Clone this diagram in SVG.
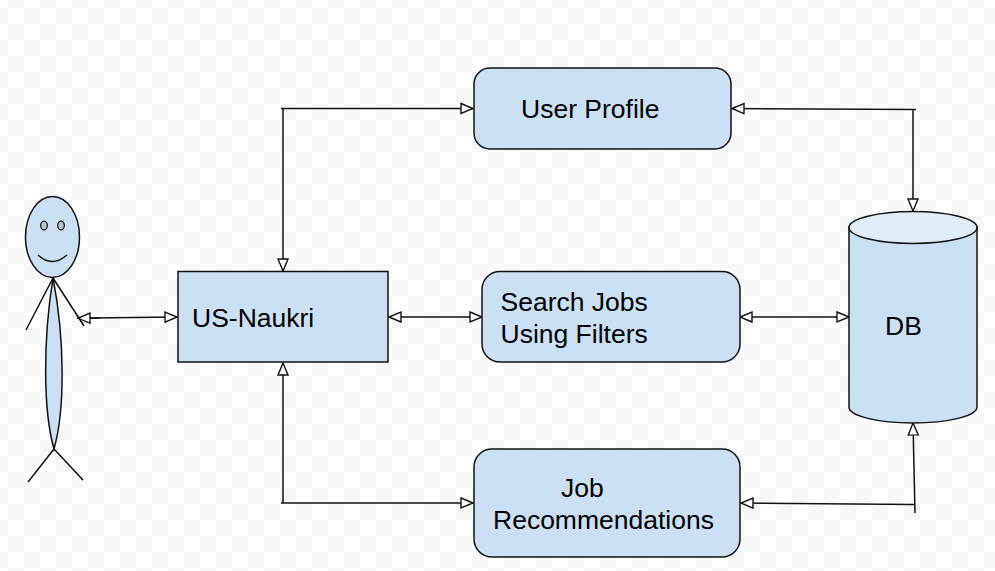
<svg xmlns="http://www.w3.org/2000/svg" width="995" height="571" viewBox="0 0 995 571">
<style>
.n{fill:#cce0f5;stroke:#111;stroke-width:1.5}
.c{fill:none;stroke:#111;stroke-width:1.5}
.a{marker-end:url(#h)}
text{font-family:"Liberation Sans",Arial,sans-serif;font-size:26.500px;fill:#000}
</style>
<defs>
<pattern id="bg" width="32" height="32" patternUnits="userSpaceOnUse" x="8" y="-8">
<rect width="32" height="32" fill="#fff"/>
<rect width="16" height="16" fill="#f7f7f7"/>
<rect x="16" y="16" width="16" height="16" fill="#f7f7f7"/>
</pattern>
<marker id="h" markerUnits="userSpaceOnUse" markerWidth="14" markerHeight="12" refX="12.500" refY="5.500" orient="auto" overflow="visible">
<path d="M0.500 0.500L12.500 5.500L0.500 10.500Z" fill="#fff" stroke="#111" stroke-width="1.400"/>
</marker>
</defs>
<rect width="995" height="571" fill="url(#bg)"/>
<g id="connectors">
<path class="c a" d="M281 108.500H473"/>
<path class="c a" d="M283 108.500V271"/>
<path class="c a" d="M916 109.500L732 108.500"/>
<path class="c a" d="M913 110V211"/>
<path class="c a" d="M100 318L78 318.300"/>
<path class="c a" d="M90 318L177 317"/>
<path class="c a" d="M430 317H389"/>
<path class="c a" d="M430 317H482"/>
<path class="c a" d="M790 317H740"/>
<path class="c a" d="M790 317H849"/>
<path class="c a" d="M283 503V363"/>
<path class="c a" d="M281 503H473"/>
<path class="c a" d="M914 504.500L741 503"/>
<path class="c a" d="M915 513L913 423"/>
</g>
<g id="actor">
<ellipse class="n" cx="52.500" cy="237" rx="27" ry="40.500"/>
<ellipse cx="44" cy="225.500" rx="3.300" ry="4.300" fill="#b9c6d4" stroke="#111" stroke-width="1.300"/>
<ellipse cx="61" cy="225.500" rx="3.300" ry="4.300" fill="#b9c6d4" stroke="#111" stroke-width="1.300"/>
<path class="c" d="M38 255Q52 268 67 255"/>
<path class="n" d="M53 278C43 340 43 410 54 449C65 410 65 340 53 278Z"/>
<path class="c" d="M53 278L26 330M53 278L84 326M54 449L28 482M54 449L83 480"/>
</g>
<g id="us-naukri">
<rect class="n" x="178" y="271.500" width="210" height="90.500"/>
<text x="192" y="327">US-Naukri</text>
</g>
<g id="user-profile">
<rect class="n" x="474" y="68" width="257" height="81" rx="16"/>
<text x="521" y="118">User Profile</text>
</g>
<g id="search-jobs">
<rect class="n" x="482" y="271.500" width="258" height="90.500" rx="18"/>
<text x="500.500" y="311">Search Jobs</text>
<text x="500.500" y="342.500">Using Filters</text>
</g>
<g id="job-recommendations">
<rect class="n" x="474" y="449" width="266" height="108" rx="18"/>
<text x="561" y="497">Job</text>
<text x="493" y="529">Recommendations</text>
</g>
<g id="db">
<path class="n" d="M849 227V407C849 416 878 423 913 423C948 423 977 416 977 407V227Z"/>
<ellipse cx="913" cy="227.500" rx="64" ry="16" fill="#e0ecf8" stroke="#111" stroke-width="1.500"/>
<text x="885" y="335">DB</text>
</g>
</svg>
